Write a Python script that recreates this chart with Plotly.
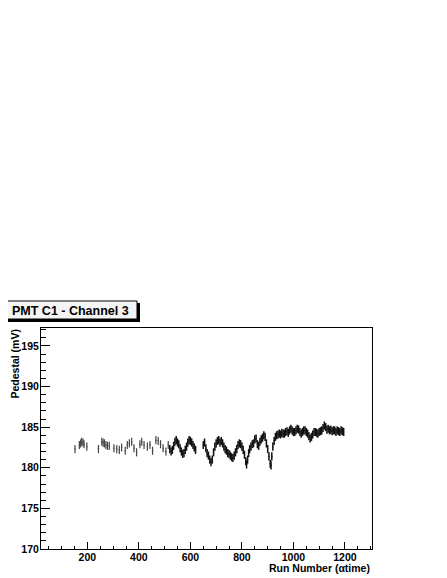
import plotly.graph_objects as go

# Pedestal of PMT C1, channel 3, per run
RUNS_SPARSE = [152, 169, 174, 178, 183, 187, 198,
               243, 256, 261, 266, 272, 278, 285, 303, 314, 324, 333, 347,
               355, 363, 372, 381, 391, 404, 411, 420, 433, 443, 453, 466,
               475, 484, 494, 505, 514]
PED_SPARSE = [182.3, 182.8, 183.0, 183.2, 183.1, 182.9, 182.6,
              182.3, 183.2, 183.1, 183.0, 182.8, 182.7, 182.7, 182.4, 182.3,
              182.2, 182.5, 182.1, 182.8, 183.0, 183.2, 182.4, 181.9, 182.9,
              183.2, 182.8, 182.6, 182.8, 182.1, 183.4, 183.3, 182.9, 182.4,
              182.0, 182.8]

RUNS_DENSE = [520, 525, 530, 535, 540, 545, 550, 555, 560, 565, 570, 575,
              580, 585, 590, 595, 600, 605, 610, 615, 620,
              650, 655, 660, 665, 670, 675, 680, 685, 690, 695, 700, 705,
              710, 715, 720, 725, 730, 735, 740, 745, 750, 755, 760, 765,
              770, 775, 780, 785, 790, 795, 800, 805, 810, 815, 818, 822,
              826, 830, 835, 840, 845, 850, 855, 860, 865, 870, 875, 880,
              885, 890, 895, 900, 905, 910, 913, 916, 920, 925, 930, 935,
              940, 945, 950, 955, 960, 965, 970, 975, 980, 985, 990, 995,
              1000, 1005, 1010, 1015, 1020, 1025, 1030, 1035, 1040, 1045,
              1050, 1055, 1060, 1065, 1070, 1075, 1080, 1085, 1090, 1095,
              1100, 1105, 1110, 1115, 1120, 1125, 1130, 1135, 1140, 1145,
              1150, 1155, 1160, 1165, 1170, 1175, 1180, 1185, 1190, 1195]
PED_DENSE = [182.3, 182.0, 182.2, 182.7, 183.2, 183.4, 183.1, 182.9, 182.4,
             182.0, 181.7, 181.8, 182.2, 182.6, 183.1, 183.4, 183.3, 183.1,
             182.8, 182.5, 182.2,
             182.8, 183.1, 182.4, 181.8, 181.5, 181.0, 180.7, 181.0, 181.9,
             182.6, 183.0, 183.3, 183.4, 183.1, 183.3, 183.0, 182.6, 182.3,
             182.1, 181.8, 181.7, 181.5, 181.3, 181.2, 181.5, 181.9, 182.3,
             182.8, 183.0, 182.9, 182.6, 182.2, 181.6, 180.8, 180.4, 181.0,
             181.8, 182.3, 182.6, 182.9, 183.0, 183.5, 183.6, 182.9, 182.7,
             183.2, 183.5, 183.7, 184.0, 183.8, 183.0, 182.3, 181.4, 180.5,
             180.3, 181.4, 182.6, 183.3, 183.8, 184.0, 184.1, 184.2, 184.1,
             184.3, 184.2, 184.2, 184.4, 184.5, 184.3, 184.6, 184.8, 184.6,
             184.4, 184.4, 184.6, 184.8, 184.7, 184.4, 184.2, 184.4, 184.6,
             184.6, 184.4, 184.2, 183.9, 183.6, 183.8, 184.1, 184.4, 184.4,
             184.3, 184.2, 184.4, 184.5, 184.6, 184.9, 185.2, 185.0, 184.7,
             184.8, 184.6, 184.7, 184.5, 184.6, 184.6, 184.4, 184.6, 184.5,
             184.4, 184.6, 184.5, 184.4]
PED_ERR = 0.5

X_RANGE = [20, 1305]
Y_RANGE = [170, 197.2]

# the page body adds an 8px margin, so the figure is laid out 8px smaller
OFF = 8
W, H = 447 - OFF, 578 - OFF
L, R, T, B = 41 - OFF, 75, 328 - OFF, 29
PW, PH = W - L - R, H - T - B


def px(x):
    # window pixel -> paper x
    return (x - OFF - L) / PW


def py(y):
    # window pixel -> paper y
    return (H - B - (y - OFF)) / PH


FONT = dict(family="Liberation Sans, Arial, sans-serif", size=10.5,
            color="black", weight="bold")

fig = go.Figure()
for runs, ped, color, thick in [(RUNS_SPARSE, PED_SPARSE, "#444444", 1.2),
                                (RUNS_DENSE, PED_DENSE, "#111111", 1.5)]:
    fig.add_trace(go.Scatter(
        x=runs, y=ped, mode="markers",
        marker=dict(size=1.5, color=color),
        error_y=dict(type="constant", value=PED_ERR, width=0,
                     thickness=thick, color=color),
        showlegend=False, hoverinfo="x+y",
    ))

axis_common = dict(showline=True, linecolor="black", linewidth=1, mirror=True,
                   showgrid=False, zeroline=False, ticks="inside",
                   tickcolor="black", tickfont=FONT)
fig.update_xaxes(range=X_RANGE, tick0=0, dtick=200, ticklen=7,
                 ticklabelstandoff=-2,
                 minor=dict(dtick=50, ticklen=3.5, ticks="inside",
                            tickcolor="black", showgrid=False),
                 **axis_common)
fig.update_yaxes(range=Y_RANGE, tick0=170, dtick=5, ticklen=9,
                 ticklabelstandoff=-1,
                 minor=dict(dtick=1, ticklen=4.5, ticks="inside",
                            tickcolor="black", showgrid=False),
                 **axis_common)

# ROOT-style title pave with shadow
fig.add_shape(type="rect", xref="paper", yref="paper",
              x0=px(6), x1=px(140), y0=py(322), y1=py(303),
              fillcolor="black", line=dict(width=0))
fig.add_shape(type="rect", xref="paper", yref="paper",
              x0=px(4), x1=px(137), y0=py(319), y1=py(301),
              fillcolor="#f4f4f4", line=dict(color="black", width=1))
fig.add_annotation(text="PMT C1 - Channel 3", xref="paper", yref="paper",
                   x=px(70.5), y=py(310.5), xanchor="center",
                   yanchor="middle", showarrow=False,
                   font=dict(FONT, size=12.5))

fig.add_annotation(text="Pedestal (mV)", xref="paper", yref="paper",
                   x=px(14), y=1, xanchor="center", yanchor="top",
                   textangle=-90, showarrow=False, font=FONT)
fig.add_annotation(text="Run Number (\u03b1time)", xref="paper",
                   yref="paper", x=1, y=py(568), xanchor="right",
                   yanchor="middle", showarrow=False, font=FONT)

fig.update_layout(
    width=W, height=H, margin=dict(l=L, r=R, t=T, b=B),
    plot_bgcolor="white", paper_bgcolor="white",
)
fig.write_html("out.html")
